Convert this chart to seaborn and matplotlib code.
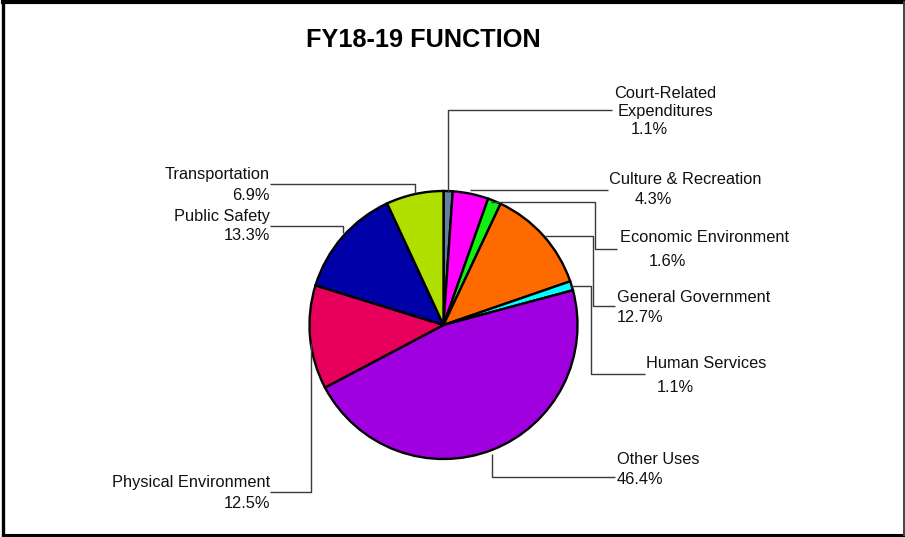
import numpy as np
import matplotlib
matplotlib.use("Agg")
import matplotlib.pyplot as plt
from matplotlib.lines import Line2D
import seaborn as sns

# Budget by function, FY18-19 (percent of total)
categories = [
    "Court-Related\nExpenditures",
    "Culture & Recreation",
    "Economic Environment",
    "General Government",
    "Human Services",
    "Other Uses",
    "Physical Environment",
    "Public Safety",
    "Transportation",
]
shares = [1.1, 4.3, 1.6, 12.7, 1.1, 46.4, 12.5, 13.3, 6.9]
share_labels = [f"{v:.1f}%" for v in shares]

slice_colors = ["#62809F", "#FF00FF", "#11F011", "#FF6A00", "#00FFFF",
                "#A000E0", "#E6005C", "#0000A8", "#B0E000"]

sns.set_theme(style="white")
plt.rcParams["font.family"] = ["Liberation Sans", "DejaVu Sans"]

W, H = 905, 537
fig = plt.figure(figsize=(W / 100, H / 100), dpi=100)
ax = fig.add_axes([0, 0, 1, 1])


def Y(y):
    """Convert a top-down pixel row into the axes' upward y coordinate."""
    return H - y


cx, cy, r = 443.5, 325, 134
wedges, _ = ax.pie(
    shares, colors=slice_colors, startangle=90, counterclock=False,
    center=(cx, Y(cy)), radius=r,
    wedgeprops=dict(edgecolor="black", linewidth=1.7),
)
ax.set_xlim(0, W)
ax.set_ylim(0, H)
ax.set_aspect("equal")
ax.axis("off")

# Leader line routes: slice anchor followed by elbow points
routes = [
    [(448, 192), (448, 110), (612, 110)],
    [(470, 190), (608, 190)],
    [(491, 202), (595, 202), (595, 249), (617, 249)],
    [(545, 236), (593, 236), (593, 306), (615, 306)],
    [(570, 286), (591, 286), (591, 374), (645, 374)],
    [(492, 454), (492, 477), (615, 477)],
    [(311, 343), (311, 492), (270, 492)],
    [(343, 233), (343, 226), (270, 226)],
    [(415, 193), (415, 184), (270, 184)],
]
for pts in routes:
    ax.plot([p[0] for p in pts], [Y(p[1]) for p in pts], color="#3a3a3a",
            lw=1.0, solid_capstyle="butt", zorder=1)

fs = 11.8
# name position, name alignment, value position, value alignment
placements = [
    ((665, 102.5), "center", (649, 129), "center"),
    ((609, 180), "left", (653, 200), "center"),
    ((620, 238), "left", (667, 261), "center"),
    ((617, 297), "left", (617, 317), "left"),
    ((646, 363), "left", (675, 388), "center"),
    ((617, 460), "left", (617, 479), "left"),
    ((270, 483), "right", (270, 503), "right"),
    ((270, 216), "right", (270, 236), "right"),
    ((270, 175), "right", (270, 195), "right"),
]
for name, val, (npos, nha, vpos, vha) in zip(categories, share_labels, placements):
    ax.text(npos[0], Y(npos[1]), name, ha=nha, va="center", fontsize=fs,
            color="#111111", linespacing=1.22, multialignment="center")
    ax.text(vpos[0], Y(vpos[1]), val, ha=vha, va="center", fontsize=fs,
            color="#111111")

ax.text(423, Y(40), "FY18-19 FUNCTION", ha="center", va="center",
        fontsize=18.2, fontweight="bold", color="black")

# Outer frame: heavy top/left/bottom edges, lighter right edge
frame = [((3, 2), (904, 2), 3.0, "black"),
         ((3, 2), (3, 535), 2.4, "black"),
         ((3, 535), (904, 535), 2.2, "black"),
         ((904, 2), (904, 535), 1.4, "#444444")]
for (x0, y0), (x1, y1), lw, c in frame:
    fig.add_artist(Line2D([x0 / W, x1 / W], [Y(y0) / H, Y(y1) / H],
                          transform=fig.transFigure, lw=lw, color=c,
                          solid_capstyle="projecting"))

fig.savefig("out.png", dpi=100)
